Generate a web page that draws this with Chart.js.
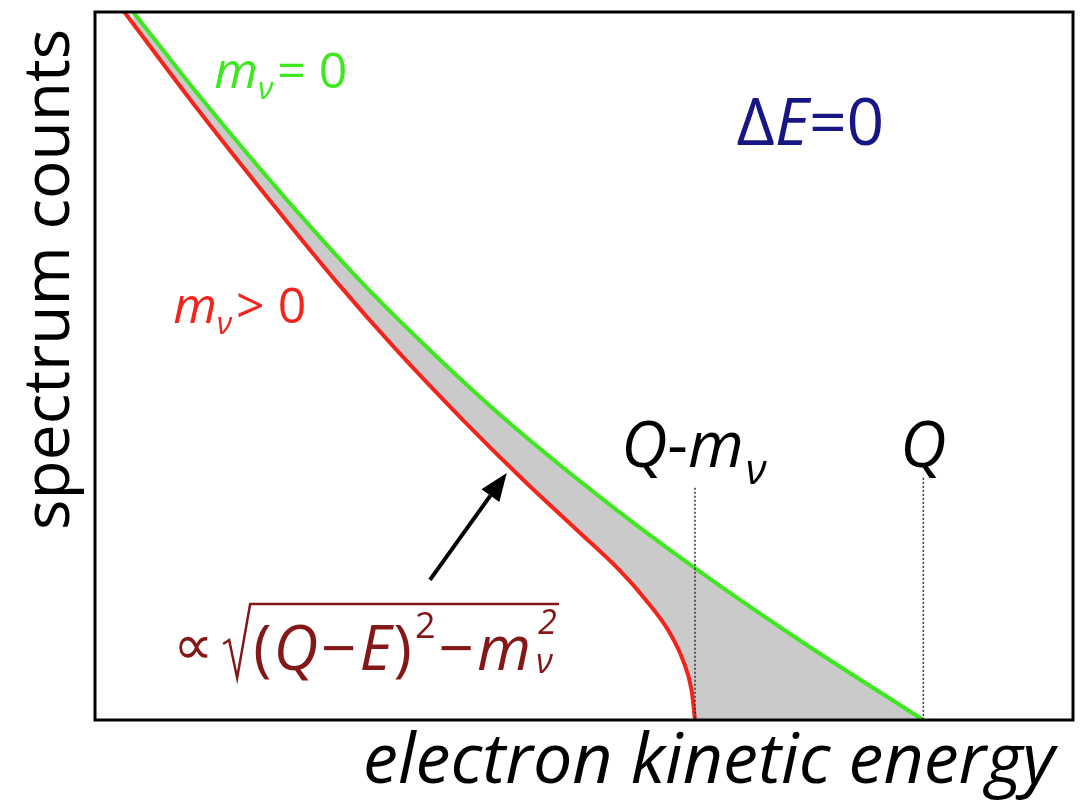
<!DOCTYPE html>
<html>
<head>
<meta charset="utf-8">
<script src="https://cdn.jsdelivr.net/npm/chart.js@4.4.1/dist/chart.umd.min.js"></script>
<style>
  html, body { margin: 0; padding: 0; background: #fff; }
  #wrap { width: 1081px; height: 803px; }
</style>
</head>
<body>
<div id="wrap"><canvas id="chart"></canvas></div>
<script>
// Beta spectrum near the endpoint (arbitrary units)
const energyMassless = [3.9, 11.0, 19.6, 27.0, 34.2, 42.0, 52.0, 61.6, 72.0, 84.7];
const countsMassless = [100, 87.6, 73.5, 62.2, 52.3, 42.4, 31.1, 21.2, 11.3, 0];

const energyMassive = [3.0, 10.7, 17.8, 24.5, 30.8, 37.6, 43.8, 49.3, 53.6, 56.3, 58.6, 60.1, 61.0, 61.35];
const countsMassive = [100, 85.9, 73.5, 62.2, 52.3, 42.4, 33.9, 26.8, 21.2, 17.0, 12.7, 8.5, 4.2, 0];

// endpoints marked on the energy axis
const endpointQ = 84.7;
const endpointQm = energyMassive[energyMassive.length - 1];

const GREEN = 'rgb(60,232,30)';
const RED = 'rgb(242,36,28)';
const GRAY = 'rgb(202,202,202)';
const FONT = '"Open Sans", "DejaVu Sans", sans-serif';

const toPoints = (xs, ys) => xs.map((x, i) => ({ x: x, y: ys[i] }));

// draw a row of text pieces one after another
function run(ctx, x, y, parts) {
  parts.forEach(p => {
    ctx.font = p.f + ' ' + FONT;
    x += p.dx || 0;
    ctx.fillText(p.t, x, y + (p.dy || 0));
    x += ctx.measureText(p.t).width;
  });
  return x;
}

const annotate = {
  id: 'annotate',
  afterDatasetsDraw(chart) {
    const { ctx, chartArea: a, scales: { x, y } } = chart;
    ctx.save();

    // dotted markers at Q - m and Q
    ctx.strokeStyle = '#333';
    ctx.lineWidth = 1.5;
    ctx.setLineDash([2, 2]);
    [[endpointQm, 32.8], [endpointQ, 34.2]].forEach(([e, top]) => {
      const px = x.getPixelForValue(e);
      ctx.beginPath();
      ctx.moveTo(px, y.getPixelForValue(top));
      ctx.lineTo(px, a.bottom);
      ctx.stroke();
    });
    ctx.setLineDash([]);

    ctx.textBaseline = 'alphabetic';
    ctx.textAlign = 'left';

    // curve labels
    ctx.fillStyle = GREEN;
    run(ctx, x.getPixelForValue(12.2), y.getPixelForValue(89.3), [
      { t: 'm', f: 'italic 50px' },
      { t: 'ν', f: 'italic 31px', dy: 11 },
      { t: '= 0', f: '50px', dx: 4 }
    ]);
    ctx.fillStyle = RED;
    run(ctx, x.getPixelForValue(8.0), y.getPixelForValue(56.1), [
      { t: 'm', f: 'italic 50px' },
      { t: 'ν', f: 'italic 31px', dy: 11 },
      { t: '> 0', f: '50px', dx: 4 }
    ]);
    ctx.fillStyle = '#161684';
    run(ctx, x.getPixelForValue(65.6), y.getPixelForValue(81.2), [
      { t: 'Δ', f: '66px' },
      { t: 'E', f: 'italic 66px' },
      { t: '=0', f: '66px' }
    ]);

    // endpoint labels
    ctx.fillStyle = '#000';
    run(ctx, x.getPixelForValue(53.8), y.getPixelForValue(35.7), [
      { t: 'Q', f: 'italic 64px' },
      { t: '-', f: '64px' },
      { t: 'm', f: 'italic 64px' },
      { t: 'ν', f: 'italic 42px', dy: 17, dx: 2 }
    ]);
    ctx.font = 'italic 64px ' + FONT;
    ctx.textAlign = 'center';
    ctx.fillText('Q', x.getPixelForValue(endpointQ), y.getPixelForValue(35.7));
    ctx.textAlign = 'left';

    // arrow pointing at the massive curve
    const x0 = x.getPixelForValue(34.25), y0 = y.getPixelForValue(19.8);
    const x1 = x.getPixelForValue(42.1), y1 = y.getPixelForValue(34.9);
    const ang = Math.atan2(y1 - y0, x1 - x0);
    const head = 28, hw = 11;
    const bx = x1 - head * Math.cos(ang), by = y1 - head * Math.sin(ang);
    ctx.strokeStyle = '#000';
    ctx.lineWidth = 4;
    ctx.beginPath();
    ctx.moveTo(x0, y0);
    ctx.lineTo(bx, by);
    ctx.stroke();
    ctx.fillStyle = '#000';
    ctx.beginPath();
    ctx.moveTo(x1, y1);
    ctx.lineTo(bx + hw * Math.sin(ang), by - hw * Math.cos(ang));
    ctx.lineTo(bx - hw * Math.sin(ang), by + hw * Math.cos(ang));
    ctx.closePath();
    ctx.fill();

    // formula for the shape near the endpoint
    const fc = '#841818';
    ctx.fillStyle = fc;
    ctx.strokeStyle = fc;
    const fx = x.getPixelForValue(8.4), fy = y.getPixelForValue(7.06);
    ctx.font = '56px "DejaVu Sans"';
    ctx.fillText('∝', fx - 4, fy - 6);
    const rx = fx + 46;
    let cx = run(ctx, rx + 30, fy, [
      { t: '(', f: '62px' },
      { t: 'Q', f: 'italic 62px', dx: 2 },
      { t: '−', f: '62px', dx: 3 },
      { t: 'E', f: 'italic 62px', dx: 3 },
      { t: ')', f: '62px', dx: 2 },
      { t: '2', f: '36px', dy: -32, dx: 3 },
      { t: '−', f: '62px', dx: 3 },
      { t: 'm', f: 'italic 62px', dx: 3 }
    ]);
    ctx.font = 'italic 34px ' + FONT;
    ctx.fillText('2', cx + 7, fy - 36);
    ctx.fillText('ν', cx + 5, fy + 3);
    const end = cx + 28;
    ctx.lineWidth = 2.5;
    ctx.beginPath();
    ctx.moveTo(rx, fy - 26);
    ctx.lineTo(rx + 6, fy - 30);
    ctx.lineTo(rx + 14, fy + 8);
    ctx.lineTo(rx + 27, fy - 66);
    ctx.lineTo(end, fy - 66);
    ctx.stroke();

    ctx.restore();
  },
  afterDraw(chart) {
    const { ctx, chartArea: a } = chart;
    ctx.save();
    ctx.strokeStyle = '#000';
    ctx.lineWidth = 3;
    ctx.strokeRect(a.left, a.top, a.right - a.left, a.bottom - a.top);
    ctx.restore();
  }
};

new Chart(document.getElementById('chart'), {
  type: 'line',
  data: {
    datasets: [
      {
        label: 'm = 0',
        data: toPoints(energyMassless, countsMassless),
        borderColor: GREEN,
        borderWidth: 4,
        pointRadius: 0,
        cubicInterpolationMode: 'monotone',
        fill: 2,
        backgroundColor: GRAY
      },
      {
        label: 'm > 0',
        data: toPoints(energyMassive, countsMassive),
        borderColor: RED,
        borderWidth: 4,
        pointRadius: 0,
        cubicInterpolationMode: 'monotone',
        fill: false
      },
      {
        // lower edge of the shaded gap: massive curve, then the axis up to Q
        label: 'gap',
        data: toPoints(energyMassive.concat([endpointQ]), countsMassive.concat([0])),
        borderColor: 'rgba(0,0,0,0)',
        borderWidth: 0,
        pointRadius: 0,
        cubicInterpolationMode: 'monotone',
        fill: false
      }
    ]
  },
  options: {
    responsive: true,
    maintainAspectRatio: false,
    animation: false,
    layout: { padding: { top: 12, right: 8, left: 0, bottom: 0 } },
    plugins: {
      legend: { display: false },
      tooltip: { enabled: false },
      filler: { drawTime: 'beforeDatasetsDraw' }
    },
    scales: {
      x: {
        type: 'linear', min: 0, max: 100,
        grid: { display: false }, border: { display: false }, ticks: { display: false },
        title: {
          display: true, text: 'electron kinetic energy ', align: 'end', color: '#000',
          font: { family: 'Open Sans', size: 70, style: 'italic', lineHeight: 1.1 }, padding: { top: 0, bottom: 1 }
        },
        afterFit(s) { s.height = 83; }
      },
      y: {
        type: 'linear', min: 0, max: 100,
        grid: { display: false }, border: { display: false }, ticks: { display: false },
        title: {
          display: true, text: 'spectrum counts ', align: 'end', color: '#000',
          font: { family: 'Open Sans', size: 64 }, padding: { top: 12, bottom: 0 }
        },
        afterFit(s) { s.width = 95; }
      }
    }
  },
  plugins: [annotate]
});
</script>
</body>
</html>
